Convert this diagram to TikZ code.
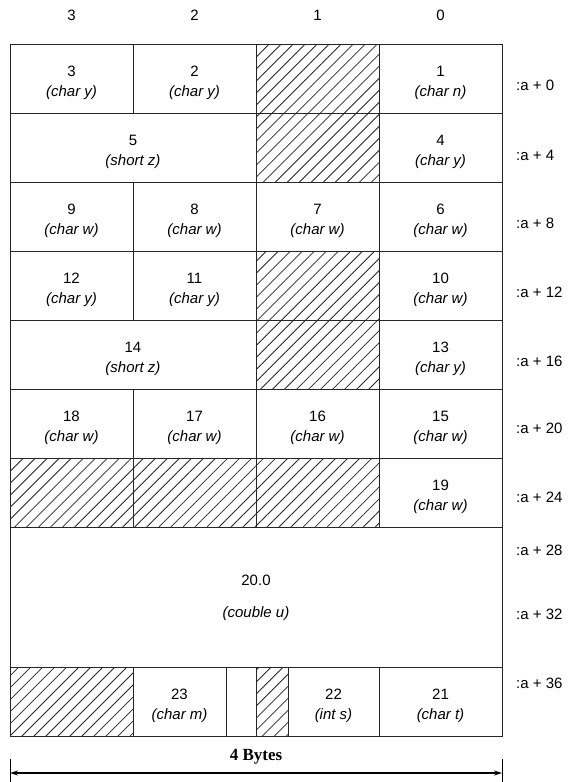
\documentclass[tikz,border=0pt]{standalone}
\usepackage{fontspec}
\setmainfont{Liberation Sans}
\newfontfamily\bytesfont{Liberation Serif}
\usetikzlibrary{patterns.meta,arrows.meta}

\begin{document}
\begin{tikzpicture}[x=1pt, y=-1pt,
  frame/.style={draw=black!85, line width=1pt},
  hatch/.style={pattern={Lines[angle=45, distance=8.5pt, line width=0.8pt]}, pattern color=black!85},
  field/.style={font=\fontsize{15}{20}\selectfont, align=center, inner sep=0pt},
  offset/.style={font=\fontsize{15}{16}\selectfont, anchor=west, inner sep=0pt}]
  \useasboundingbox (0,0) rectangle (569,782);

  % Byte numbers on top
  \foreach \b/\x in {3/71.5, 2/194.5, 1/317.5, 0/440.5}
    \node[field] (h\b) at (\x,15) {\b};

  % Padding bytes (hatched)
  \fill[hatch] (256,44) rectangle (379,113);
  \fill[hatch] (256,113) rectangle (379,182);
  \fill[hatch] (256,251) rectangle (379,320);
  \fill[hatch] (256,320) rectangle (379,389);
  \fill[hatch] (10,458) rectangle (379,527);
  \fill[hatch] (10,667) rectangle (133,736);
  \fill[hatch] (256,667) rectangle (288,736);

  % Outer frame and row lines
  \draw[frame] (10,44) rectangle (502,736);
  \foreach \y in {113, 182, 251, 320, 389, 458, 527, 667}
    \draw[frame] (10,\y) -- (502,\y);

  % Column lines, row by row
  \foreach \x in {133, 256, 379} {
    \draw[frame] (\x,44) -- (\x,113);
    \draw[frame] (\x,182) -- (\x,251);
    \draw[frame] (\x,251) -- (\x,320);
    \draw[frame] (\x,389) -- (\x,458);
    \draw[frame] (\x,458) -- (\x,527);
  }
  \foreach \x in {256, 379} {
    \draw[frame] (\x,113) -- (\x,182);
    \draw[frame] (\x,320) -- (\x,389);
  }
  \foreach \x in {133, 226, 256, 288, 379}
    \draw[frame] (\x,667) -- (\x,736);

  % Fields
  \node[field] (f3) at (71.5,83) {3\\\textit{(char y)}};
  \node[field] (f2) at (194.5,83) {2\\\textit{(char y)}};
  \node[field] (f1) at (440.5,83) {1\\\textit{(char n)}};

  \node[field] (f5) at (133,152) {5\\\textit{(short z)}};
  \node[field] (f4) at (440.5,152) {4\\\textit{(char y)}};

  \node[field] (f9) at (71.5,221) {9\\\textit{(char w)}};
  \node[field] (f8) at (194.5,221) {8\\\textit{(char w)}};
  \node[field] (f7) at (317.5,221) {7\\\textit{(char w)}};
  \node[field] (f6) at (440.5,221) {6\\\textit{(char w)}};

  \node[field] (f12) at (71.5,290) {12\\\textit{(char y)}};
  \node[field] (f11) at (194.5,290) {11\\\textit{(char y)}};
  \node[field] (f10) at (440.5,290) {10\\\textit{(char w)}};

  \node[field] (f14) at (133,359) {14\\\textit{(short z)}};
  \node[field] (f13) at (440.5,359) {13\\\textit{(char y)}};

  \node[field] (f18) at (71.5,428) {18\\\textit{(char w)}};
  \node[field] (f17) at (194.5,428) {17\\\textit{(char w)}};
  \node[field] (f16) at (317.5,428) {16\\\textit{(char w)}};
  \node[field] (f15) at (440.5,428) {15\\\textit{(char w)}};

  \node[field] (f19) at (440.5,497) {19\\\textit{(char w)}};

  \node[field] (f20) at (256,580) {20.0};
  \node[field] (f20t) at (256,614) {\textit{(couble u)}};

  \node[field] (f23) at (179.5,706) {23\\\textit{(char m)}};
  \node[field] (f22) at (333.5,706) {22\\\textit{(int s)}};
  \node[field] (f21) at (440.5,706) {21\\\textit{(char t)}};

  % Offsets on the right
  \foreach \n/\y in {0/85, 4/155, 8/223, 12/292, 16/361, 20/428, 24/497, 28/550, 32/614, 36/683}
    \node[offset] (a\n) at (516,\y) {:a + \n};

  % Width of one word
  \coordinate (wl) at (10,773);
  \coordinate (wr) at (502,773);
  \draw[line width=1pt] (10,759) -- (10,782);
  \draw[line width=1pt] (502,759) -- (502,782);
  \draw[line width=1.3pt, {Stealth[length=8pt, width=5pt]}-{Stealth[length=8pt, width=5pt]}] (wl) -- (wr);
  \node[font=\bytesfont\bfseries\fontsize{17}{18}\selectfont, inner sep=0pt] (bytes) at (256,757) {4 Bytes};

\end{tikzpicture}
\end{document}
